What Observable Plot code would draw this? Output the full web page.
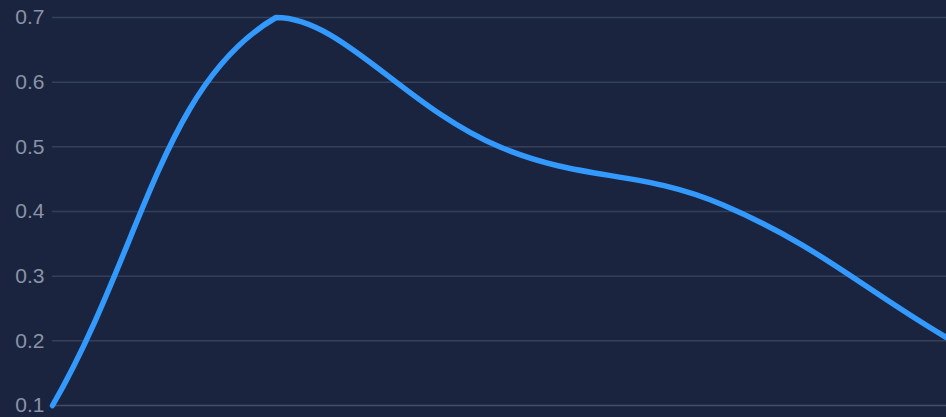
<!DOCTYPE html>
<html>
<head>
<meta charset="utf-8">
<script src="https://cdn.jsdelivr.net/npm/d3@7"></script>
<script src="https://cdn.jsdelivr.net/npm/@observablehq/plot@0.6"></script>
<style>
  html, body { margin: 0; padding: 0; background: #1a243f; }
  #chart svg { display: block; }
</style>
</head>
<body>
<div id="chart"></div>
<script>
const categories = [0, 1, 2, 3, 4];
const values = [0.1, 0.7, 0.5, 0.41, 0.205];
const yTicks = [0.1, 0.2, 0.3, 0.4, 0.5, 0.6, 0.7];

const data = categories.map((c, i) => ({x: c, y: values[i]}));

// Tension spline (tension 0.4) with control points capped to the plotted extent
function cappedSpline(context) {
  let pts = [];
  const t = 0.4;
  return {
    areaStart() {}, areaEnd() {},
    lineStart() { pts = []; },
    point(x, y) { pts.push([+x, +y]); },
    lineEnd() {
      const n = pts.length;
      if (!n) return;
      context.moveTo(pts[0][0], pts[0][1]);
      if (n < 2) return;
      const minX = d3.min(pts, p => p[0]), maxX = d3.max(pts, p => p[0]);
      const minY = d3.min(pts, p => p[1]), maxY = d3.max(pts, p => p[1]);
      const clamp = (v, a, b) => Math.max(a, Math.min(b, v));
      const cps = [];
      for (let i = 0; i < n; i++) {
        const p = pts[i];
        const prev = pts[i - 1] || p, next = pts[i + 1] || p;
        const d01 = Math.hypot(p[0] - prev[0], p[1] - prev[1]);
        const d12 = Math.hypot(next[0] - p[0], next[1] - p[1]);
        let s01 = d01 / (d01 + d12), s12 = d12 / (d01 + d12);
        if (!isFinite(s01)) s01 = 0;
        if (!isFinite(s12)) s12 = 0;
        const fa = t * s01, fb = t * s12;
        const before = [clamp(p[0] - fa * (next[0] - prev[0]), minX, maxX), clamp(p[1] - fa * (next[1] - prev[1]), minY, maxY)];
        const after = [clamp(p[0] + fb * (next[0] - prev[0]), minX, maxX), clamp(p[1] + fb * (next[1] - prev[1]), minY, maxY)];
        cps.push([before, after]);
      }
      for (let i = 0; i < n - 1; i++) {
        const a = cps[i][1], b = cps[i + 1][0], q = pts[i + 1];
        context.bezierCurveTo(a[0], a[1], b[0], b[1], q[0], q[1]);
      }
    }
  };
}

const chart = Plot.plot({
  width: 946,
  height: 417,
  marginTop: 17,
  marginBottom: 12,
  marginLeft: 52,
  marginRight: 0,
  style: {background: "#1a243f", fontFamily: "'Liberation Sans', Arial, sans-serif", fontSize: "21px", color: "#8b93a6"},
  x: {domain: [0, 4], axis: null},
  y: {domain: [0.1, 0.7], ticks: yTicks, tickSize: 0, tickPadding: 8, tickFormat: d3.format(".1f"), label: null},
  marks: [
    Plot.ruleY(yTicks.slice(1), {stroke: "#34405a", strokeWidth: 1.5}),
    Plot.ruleY([0.1], {stroke: "#434d66", strokeWidth: 1.5}),
    Plot.line(data, {x: "x", y: "y", curve: cappedSpline, stroke: "#3399fd", strokeWidth: 5.5, strokeLinejoin: "round"})
  ]
});
document.getElementById("chart").appendChild(chart);
</script>
</body>
</html>
